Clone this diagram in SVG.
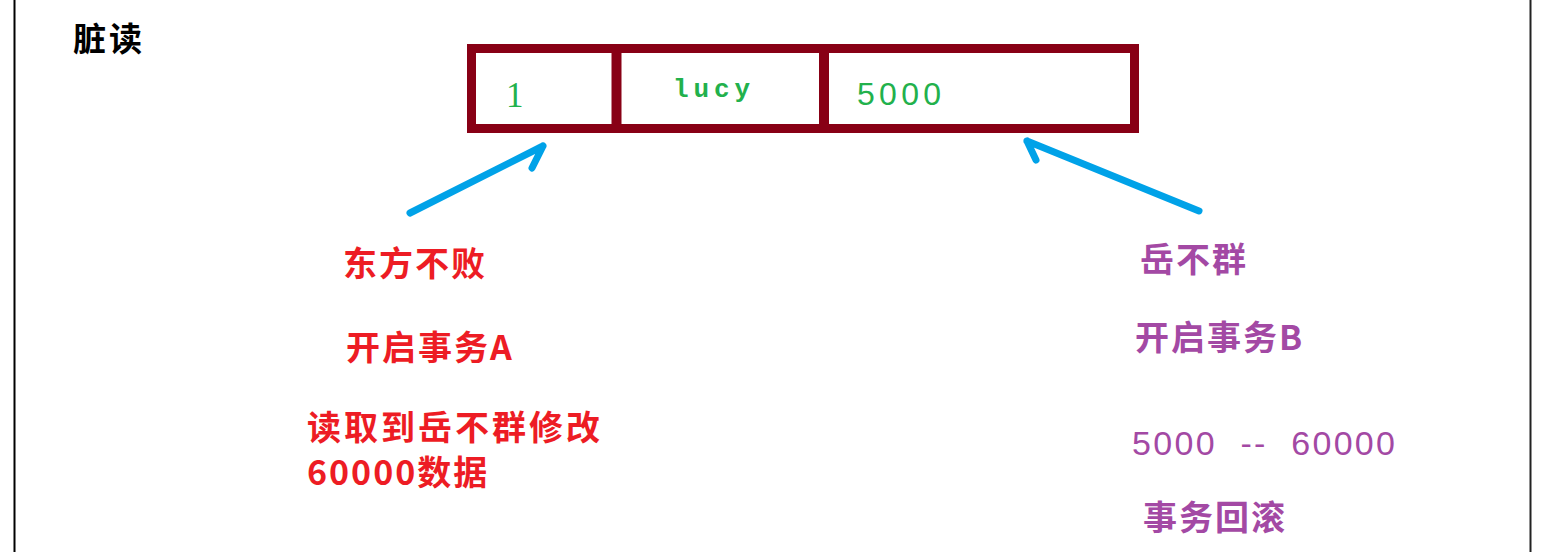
<svg xmlns="http://www.w3.org/2000/svg" width="1560" height="552" viewBox="0 0 1560 552">
<style>
.cjk{font-family:"Noto Sans CJK SC","Noto Sans",sans-serif;font-weight:bold;font-size:34px;letter-spacing:2px}
.red{fill:#ed1c24}
.pur{fill:#a349a4}
.grn{fill:#22b14c}
.arrow{stroke:#00a2e8;stroke-width:7;fill:none;stroke-linecap:round;stroke-linejoin:round}
</style>
<rect width="1560" height="552" fill="#fff"/>
<line x1="14.5" y1="0" x2="14.5" y2="552" stroke="#000" stroke-width="2"/>
<line x1="1530.5" y1="0" x2="1530.5" y2="552" stroke="#222" stroke-width="2"/>
<text x="73" y="51" class="cjk" style="fill:#000;font-size:33px;letter-spacing:3px">脏读</text>
<g id="record">
<rect x="471.5" y="48.5" width="663" height="80" fill="#fff" stroke="#880015" stroke-width="9"/>
<line x1="616.5" y1="48" x2="616.5" y2="129" stroke="#880015" stroke-width="10"/>
<line x1="824" y1="48" x2="824" y2="129" stroke="#880015" stroke-width="10"/>
<text x="506" y="107" class="grn" style="font-family:'Liberation Serif',serif;font-size:35px">1</text>
<text x="673" y="97" class="grn" style="font-family:'Liberation Mono',monospace;font-weight:bold;font-size:26px" textLength="77">lucy</text>
<text x="857" y="105" class="grn" style="font-family:'Liberation Sans Narrow','Liberation Sans',sans-serif;font-size:32px" textLength="84">5000</text>
</g>
<g id="connectors">
<path class="arrow" d="M410,213 L543,146 M543,146 L532,168"/>
<path class="arrow" d="M1199,211 L1027,141 M1027,141 L1036,160"/>
</g>
<g id="left-text">
<text x="343" y="276" class="cjk red">东方不败</text>
<text x="346" y="360" class="cjk red">开启事务A</text>
<text x="307" y="440" class="cjk red" textLength="295">读取到岳不群修改</text>
<text x="307" y="485" class="cjk red">60000数据</text>
</g>
<g id="right-text">
<text x="1140" y="272" class="cjk pur">岳不群</text>
<text x="1135" y="350" class="cjk pur">开启事务B</text>
<text x="1132" y="455" class="pur" style="font-family:'Liberation Sans',sans-serif;font-size:34px" textLength="263" xml:space="preserve">5000  --  60000</text>
<text x="1143" y="530" class="cjk pur">事务回滚</text>
</g>
</svg>
